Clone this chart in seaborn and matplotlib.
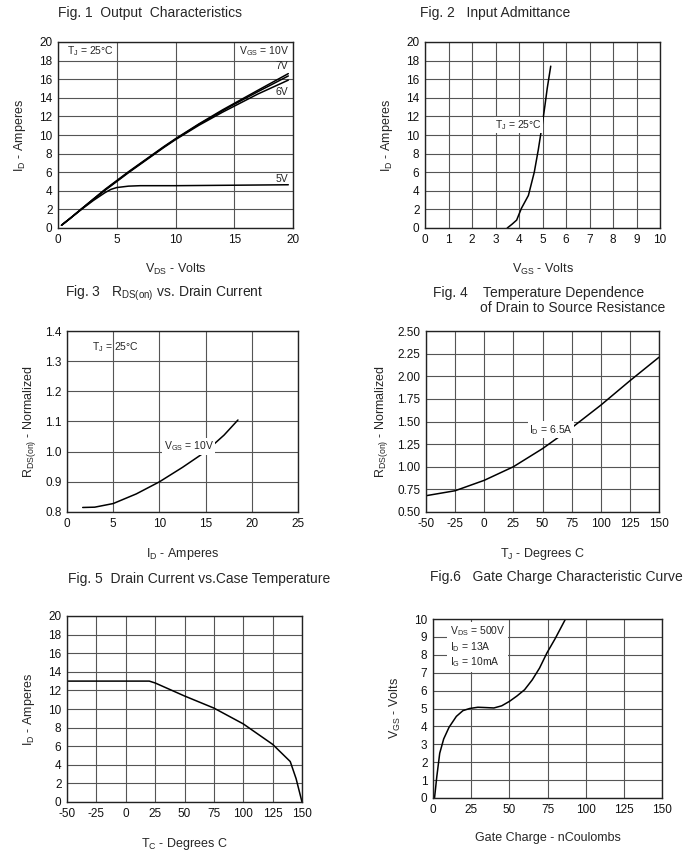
import numpy as np
import pandas as pd
import matplotlib
matplotlib.use('Agg')
import matplotlib.pyplot as plt
import seaborn as sns

# Fig 1 - output characteristics
vds_10 = [0.3, 1, 2, 3, 4, 5, 6, 7, 8, 9, 10, 12, 14, 15, 17, 19.6]
id_10 = [0.3, 1.0, 2.05, 3.1, 4.15, 5.1, 6.05, 6.95, 7.85, 8.75, 9.6, 11.2, 12.7, 13.4, 14.8, 16.6]
vds_7 = [0.3, 1, 2, 3, 4, 5, 6, 7, 8, 9, 10, 12, 14, 15, 17, 19.6]
id_7 = [0.3, 1.0, 2.05, 3.1, 4.1, 5.05, 6.0, 6.9, 7.8, 8.7, 9.55, 11.15, 12.6, 13.3, 14.65, 16.35]
vds_6 = [0.3, 1, 2, 3, 4, 5, 6, 7, 8, 9, 10, 12, 14, 15, 17, 19.6]
id_6 = [0.3, 1.0, 2.05, 3.05, 4.05, 5.0, 5.95, 6.85, 7.75, 8.65, 9.5, 11.05, 12.45, 13.1, 14.4, 15.9]
vds_5 = [0.3, 1, 2, 3, 4, 4.5, 5, 6, 7, 10, 15, 19.6]
id_5 = [0.3, 1.0, 2.0, 2.95, 3.8, 4.15, 4.35, 4.5, 4.55, 4.55, 4.6, 4.65]

# Fig 2 - input admittance
vgs_in = [3.5, 3.7, 3.9, 4.1, 4.4, 4.65, 4.82, 5.0, 5.1, 5.2, 5.35]
id_in = [0.0, 0.4, 0.85, 2.1, 3.5, 6.0, 8.4, 11.3, 13.1, 15.0, 17.4]

# Fig 3 - Rds(on) vs drain current
id_r = [1.7, 3, 5, 7.5, 10, 12.5, 15, 17, 18.5]
rds_r = [0.815, 0.816, 0.828, 0.86, 0.90, 0.948, 1.0, 1.055, 1.105]

# Fig 4 - temperature dependence
tj = [-50, -25, 0, 25, 50, 75, 100, 125, 150]
rds_t = [0.68, 0.735, 0.85, 1.0, 1.2, 1.43, 1.68, 1.95, 2.21]

# Fig 5 - drain current vs case temperature
tc = [-50, 0, 20, 25, 50, 75, 100, 125, 140, 145, 150]
id_tc = [13.0, 13.0, 13.0, 12.8, 11.4, 10.1, 8.4, 6.2, 4.35, 2.5, 0.0]

# Fig 6 - gate charge
qg = [1, 2.5, 4.4, 7, 10.5, 15.3, 19.6, 24, 29.4, 35, 39.9, 45, 50.1, 55, 60, 65, 69.8, 74.6, 80, 86.8]
vgs_q = [0, 1.2, 2.5, 3.3, 3.95, 4.56, 4.88, 5.0, 5.07, 5.05, 5.03, 5.15, 5.4, 5.7, 6.05, 6.6, 7.26, 8.1, 8.9, 10.0]

sns.set_style('white')
plt.rcParams['font.family'] = ['Liberation Sans', 'DejaVu Sans']
plt.rcParams['mathtext.fontset'] = 'custom'
plt.rcParams['mathtext.rm'] = 'Liberation Sans'
plt.rcParams['mathtext.it'] = 'Liberation Sans'
plt.rcParams['mathtext.default'] = 'rm'
plt.rcParams['axes.unicode_minus'] = False

W, H = 686, 851
fig = plt.figure(figsize=(W / 100, H / 100), dpi=100)
fig.patch.set_facecolor('white')

GRID = '#555555'
TICK_FS = 8.5
LAB_FS = 9
TTL_FS = 10
BOX = dict(facecolor='white', edgecolor='none', pad=1.0)


def make_ax(x0, y0, x1, y1, xlim, ylim, xticks, yticks, xfmt=None, yfmt=None):
    ax = fig.add_axes([x0 / W, 1 - y1 / H, (x1 - x0) / W, (y1 - y0) / H])
    ax.set_xlim(*xlim)
    ax.set_ylim(*ylim)
    ax.set_xticks(xticks)
    ax.set_yticks(yticks)
    if xfmt:
        ax.set_xticklabels([xfmt.format(v) for v in xticks])
    if yfmt:
        ax.set_yticklabels([yfmt.format(v) for v in yticks])
    ax.grid(True, color=GRID, lw=0.8)
    ax.set_axisbelow(True)
    for s in ax.spines.values():
        s.set_color('#222222')
        s.set_linewidth(1.0)
    ax.tick_params(length=0, labelsize=TICK_FS, pad=4, colors='#111111')
    return ax


def curve(ax, x, y, xlabel, ylabel, ypad=8):
    d = pd.DataFrame({'x': x, 'y': y})
    sns.lineplot(data=d, x='x', y='y', ax=ax, color='black', lw=1.1, sort=False)
    ax.set_xlabel(xlabel, fontsize=LAB_FS, labelpad=12)
    ax.set_ylabel(ylabel, fontsize=LAB_FS, labelpad=ypad)


# Fig 1
ax1 = make_ax(58, 42, 293, 228, (0, 20), (0, 20), [0, 5, 10, 15, 20], list(range(0, 21, 2)))
for x, y in [(vds_10, id_10), (vds_7, id_7), (vds_6, id_6), (vds_5, id_5)]:
    curve(ax1, x, y, r'$\mathrm{V_{DS}}$ - Volts', r'$\mathrm{I_D}$ - Amperes')
ax1.text(0.8, 19.0, r'$\mathrm{T_J}$ = 25°C', fontsize=7.5, va='center')
ax1.text(19.7, 19.0, r'$\mathrm{V_{GS}}$ = 10V', fontsize=7.5, va='center', ha='right')
ax1.text(19.6, 17.4, '7V', fontsize=7.5, va='center', ha='right')
ax1.text(19.6, 14.6, '6V', fontsize=7.5, va='center', ha='right')
ax1.text(19.6, 5.3, '5V', fontsize=7.5, va='center', ha='right')
fig.text(58 / W, 1 - 13 / H, 'Fig. 1  Output  Characteristics', fontsize=TTL_FS, va='center')

# Fig 2
ax2 = make_ax(425, 42, 660, 228, (0, 10), (0, 20), list(range(0, 11)), list(range(0, 21, 2)))
curve(ax2, vgs_in, id_in, r'$\mathrm{V_{GS}}$ - Volts', r'$\mathrm{I_D}$ - Amperes')
ax2.text(4.97, 11.1, r'$\mathrm{T_J}$ = 25°C', fontsize=7.5, va='center', ha='right', bbox=BOX)
fig.text(420 / W, 1 - 13 / H, 'Fig. 2   Input Admittance', fontsize=TTL_FS, va='center')

# Fig 3
ax3 = make_ax(67, 331, 298, 512, (0, 25), (0.8, 1.4), [0, 5, 10, 15, 20, 25],
              [0.8, 0.9, 1.0, 1.1, 1.2, 1.3, 1.4], yfmt='{:.1f}')
curve(ax3, id_r, rds_r, r'$\mathrm{I_D}$ - Amperes', r'$\mathrm{R_{DS(on)}}$ - Normalized', ypad=5)
ax3.text(2.7, 1.347, r'$\mathrm{T_J}$ = 25°C', fontsize=7.5, va='center')
ax3.text(10.45, 1.017, r'$\mathrm{V_{GS}}$ = 10V', fontsize=7.5, va='center', bbox=BOX)
fig.text(65 / W, 1 - 293 / H, r'Fig. 3   R$\mathrm{_{DS(on)}}$ vs. Drain Current', fontsize=TTL_FS, va='center')

# Fig 4
ax4 = make_ax(426, 331, 659, 512, (-50, 150), (0.5, 2.5), list(range(-50, 151, 25)),
              [0.5, 0.75, 1.0, 1.25, 1.5, 1.75, 2.0, 2.25, 2.5], yfmt='{:.2f}')
curve(ax4, tj, rds_t, r'$\mathrm{T_J}$ - Degrees C', r'$\mathrm{R_{DS(on)}}$ - Normalized', ypad=5)
ax4.text(38.4, 1.41, r'$\mathrm{I_D}$ = 6.5A', fontsize=7.5, va='center', bbox=BOX)
fig.text(433 / W, 1 - 293 / H, 'Fig. 4    Temperature Dependence', fontsize=TTL_FS, va='center')
fig.text(480 / W, 1 - 308 / H, 'of Drain to Source Resistance', fontsize=TTL_FS, va='center')

# Fig 5
ax5 = make_ax(67, 616, 302, 802, (-50, 150), (0, 20), list(range(-50, 151, 25)), list(range(0, 21, 2)))
curve(ax5, tc, id_tc, r'$\mathrm{T_C}$ - Degrees C', r'$\mathrm{I_D}$ - Amperes')
fig.text(68 / W, 1 - 579 / H, 'Fig. 5  Drain Current vs.Case Temperature', fontsize=TTL_FS, va='center')

# Fig 6
ax6 = make_ax(433, 619, 662, 798, (0, 150), (0, 10), list(range(0, 151, 25)), list(range(0, 11)))
curve(ax6, qg, vgs_q, 'Gate Charge - nCoulombs', r'$\mathrm{V_{GS}}$ - Volts')
ax6.text(10.9, 8.45, r'$\mathrm{V_{DS}}$ = 500V' + '\n' + r'$\mathrm{I_D}$ = 13A' + '\n' + r'$\mathrm{I_G}$ = 10mA',
         fontsize=7.5, va='center', linespacing=1.15, bbox=dict(facecolor='white', edgecolor='none', pad=2))
fig.text(430 / W, 1 - 577 / H, 'Fig.6   Gate Charge Characteristic Curve', fontsize=TTL_FS, va='center')

fig.savefig('out.png', dpi=100, facecolor='white')
